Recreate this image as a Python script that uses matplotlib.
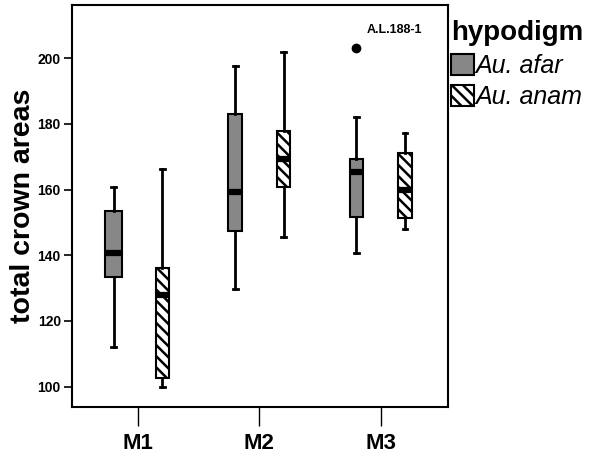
import matplotlib
matplotlib.use("Agg")
import matplotlib.pyplot as plt
from matplotlib.patches import Patch

plt.rcParams['font.family'] = ['Liberation Sans', 'DejaVu Sans']
plt.rcParams['hatch.linewidth'] = 1.8

teeth = ["M1", "M2", "M3"]
groups = ["Au. afar", "Au. anam"]

# five-number summaries
afar_lo = [112.0, 129.6, 140.8]
afar_q1 = [133.3, 147.5, 151.6]
afar_med = [140.6, 159.4, 165.2]
afar_q3 = [153.5, 182.9, 169.2]
afar_hi = [160.7, 197.7, 182.2]
afar_fliers = [[], [], [203.0]]

anam_lo = [99.8, 145.5, 147.9]
anam_q1 = [102.7, 160.9, 151.2]
anam_med = [127.9, 169.3, 159.9]
anam_q3 = [136.2, 177.9, 171.2]
anam_hi = [166.2, 202.0, 177.2]
anam_fliers = [[], [], []]

outlier_label = "A.L.188-1"

GRAY = "#878787"
HATCH = "\\\\\\"

fig = plt.figure(figsize=(5.89, 4.53), dpi=100)
ax = fig.add_axes([0.1222, 0.1015, 0.6384, 0.8875])


def stats(lo, q1, med, q3, hi, fl):
    return [dict(whislo=a, q1=b, med=c, q3=d, whishi=e, fliers=f)
            for a, b, c, d, e, f in zip(lo, q1, med, q3, hi, fl)]


common = dict(patch_artist=True, showfliers=True,
              whiskerprops=dict(color="k", lw=2),
              capprops=dict(color="k", lw=2),
              medianprops=dict(color="k", lw=4.5, solid_capstyle="butt"),
              flierprops=dict(marker="o", markerfacecolor="k", markeredgecolor="k", markersize=6))

xs = range(len(teeth))
b1 = ax.bxp(stats(afar_lo, afar_q1, afar_med, afar_q3, afar_hi, afar_fliers),
            positions=[x - 0.2 for x in xs], widths=[0.14, 0.11, 0.11],
            boxprops=dict(facecolor=GRAY, edgecolor="k", lw=1.5),
            capwidths=0.04, **common)
b2 = ax.bxp(stats(anam_lo, anam_q1, anam_med, anam_q3, anam_hi, anam_fliers),
            positions=[x + 0.2 for x in xs], widths=0.11,
            boxprops=dict(facecolor="white", edgecolor="k", lw=1.5, hatch=HATCH),
            capwidths=0.04, **common)

ax.text(2.11, 208.6, outlier_label, ha="center", va="center", fontsize=9, fontweight="bold")

ax.set_xlim(-0.545, 2.555)
ax.set_ylim(93.8, 216.2)
ax.set_yticks([100, 120, 140, 160, 180, 200])
ax.set_xticks(list(xs))
ax.set_xticklabels(teeth, fontsize=16, fontweight="bold")
for t in ax.get_yticklabels():
    t.set_fontweight("bold")
    t.set_fontsize(10)
ax.tick_params(axis="x", length=14, width=1, pad=5)
ax.tick_params(axis="y", length=6, width=1.2, pad=2)
for s in ax.spines.values():
    s.set_linewidth(1.5)
ax.set_ylabel("total crown areas", fontsize=20.5, fontweight="bold", labelpad=1)

handles = [Patch(facecolor=GRAY, edgecolor="k", lw=1.5),
           Patch(facecolor="white", edgecolor="k", lw=1.5, hatch=HATCH)]
leg = fig.legend(handles, groups, loc="upper left", bbox_to_anchor=(0.766, 0.955),
                 frameon=False, title="hypodigm", handlelength=0.9, handleheight=0.9,
                 handletextpad=0.05, labelspacing=0.3, borderaxespad=0, borderpad=0,
                 prop=dict(size=18, style="italic"),
                 title_fontproperties=dict(size=20, weight="bold"))
leg._legend_box.align = "left"

fig.savefig("out.png", dpi=100)
